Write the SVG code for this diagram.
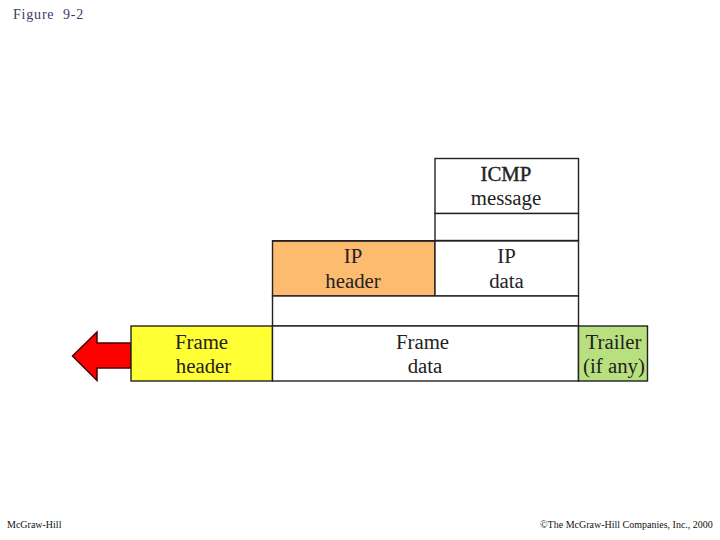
<svg xmlns="http://www.w3.org/2000/svg" width="720" height="540" viewBox="0 0 720 540">
<style>
.box{stroke:#222;stroke-width:1.4;fill:#fff}
.t{font-family:"Liberation Serif",serif;font-size:20.800px;text-anchor:middle;fill:#222}
.cap{font-family:"Liberation Serif",serif;fill:#111}
</style>
<rect width="720" height="540" fill="#fff"/>
<text class="cap" x="13" y="19" font-size="14" letter-spacing="0.8" style="fill:#3a3a6a" xml:space="preserve">Figure  9-2</text>
<g id="connectors">
<path id="arrow" d="M131 343H97V332L72.500 356L97 380.500V368H131Z" fill="#f00" stroke="#400" stroke-width="1.5"/>
</g>
<g id="icmp-message"><rect class="box" x="435" y="158.500" width="143.500" height="55"/>
<text class="t" x="506" y="181" style="stroke:#222;stroke-width:.4">ICMP</text><text class="t" x="506" y="205">message</text></g>
<g id="icmp-pad"><rect class="box" x="435" y="213.500" width="143.500" height="27"/></g>
<g id="ip-header"><rect class="box" x="272.500" y="241" width="162.500" height="55" style="fill:#fdbb6f"/>
<rect x="272" y="240" width="306.500" height="1.500" fill="#222"/>
<text class="t" x="353" y="263">IP</text><text class="t" x="353" y="288">header</text></g>
<g id="ip-data"><rect class="box" x="435" y="241" width="143.500" height="55"/>
<text class="t" x="506.500" y="263">IP</text><text class="t" x="506.500" y="288">data</text></g>
<g id="ip-pad"><rect class="box" x="272.500" y="296" width="306" height="30"/></g>
<g id="frame-header"><rect class="box" x="131" y="326" width="141.500" height="55" style="fill:#ffff33"/>
<text class="t" x="201.500" y="349">Frame</text><text class="t" x="203.500" y="373">header</text></g>
<g id="frame-data"><rect class="box" x="272.500" y="326" width="306" height="55"/>
<text class="t" x="422.500" y="349">Frame</text><text class="t" x="425" y="373">data</text></g>
<g id="trailer"><rect class="box" x="578.500" y="326" width="69" height="55" style="fill:#b9e07f"/>
<text class="t" x="613.500" y="349">Trailer</text><text class="t" x="614" y="373">(if any)</text></g>
<text class="cap" x="7" y="528" font-size="10">McGraw-Hill</text>
<text class="cap" x="540" y="528" font-size="10">©The McGraw-Hill Companies, Inc., 2000</text>
</svg>
